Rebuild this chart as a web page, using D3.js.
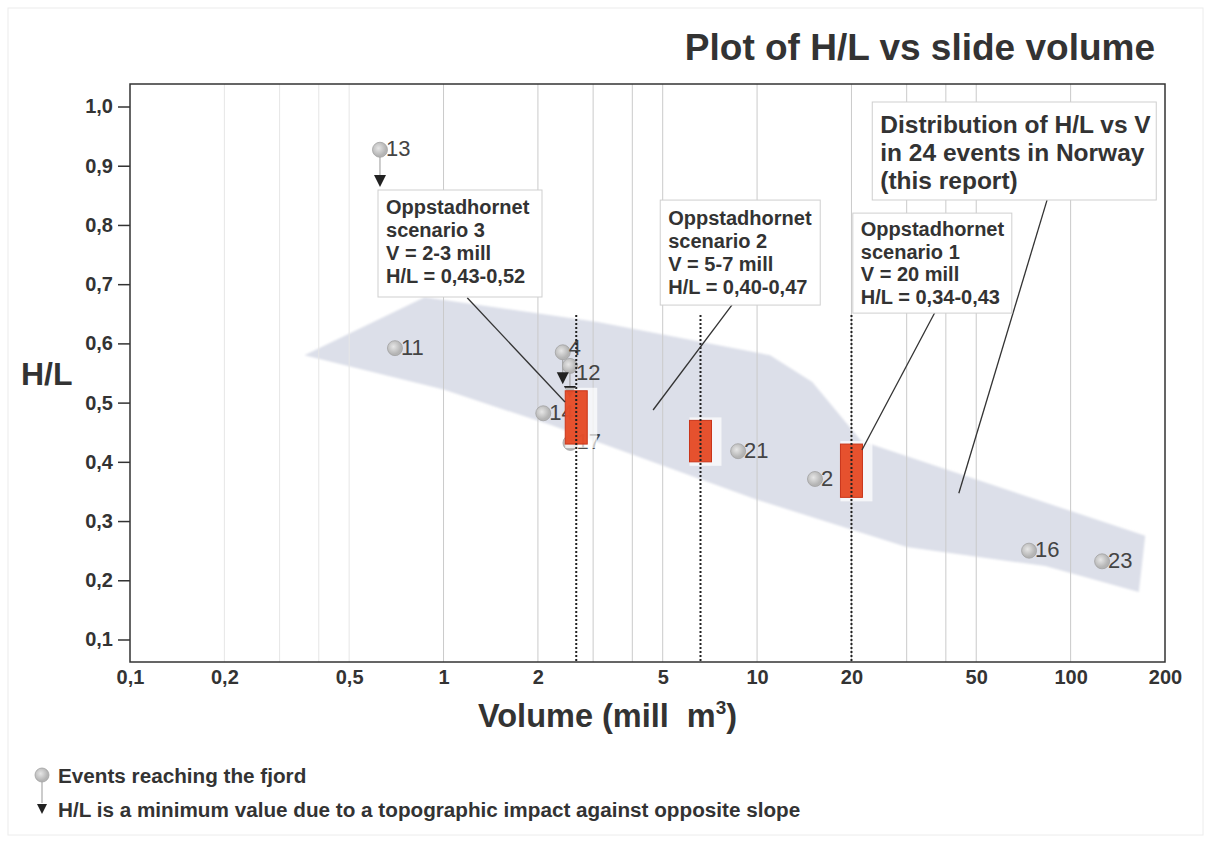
<!DOCTYPE html>
<html>
<head>
<meta charset="utf-8">
<script src="https://cdn.jsdelivr.net/npm/d3@7"></script>
<style>
  body { margin: 0; background: #fff; }
  svg { display: block; }
  .tick-y text { font: bold 20px "Liberation Sans", Arial, sans-serif; fill: #333; }
  .tick-x text { font: bold 20px "Liberation Sans", Arial, sans-serif; fill: #333; }
  .pt-label { font: 22px "Liberation Sans", Arial, sans-serif; fill: #444; }
  .box-text { font: bold 20px "Liberation Sans", Arial, sans-serif; fill: #333; }
  .dist-text { font: bold 24.5px "Liberation Sans", Arial, sans-serif; fill: #333; }
  .legend-text { font: bold 20.7px "Liberation Sans", Arial, sans-serif; fill: #333; }
</style>
</head>
<body>
<div id="chart"></div>
<script>
// events in the figure (volume in mill m3, H/L)
const eventIds = ["13", "11", "4", "12", "14", "17", "21", "2", "16", "23"];
const eventVolume = [0.627, 0.70, 2.40, 2.53, 2.08, 2.54, 8.7, 15.3, 73.7, 126];
const eventHL = [0.927, 0.592, 0.585, 0.562, 0.482, 0.432, 0.418, 0.371, 0.25, 0.232];

// events where H/L is a minimum value (arrow drawn below the point)
const minIds = ["13", "4", "12"];
const minArrowHL = [0.874, 0.541, 0.518];

// outline of the grey distribution band
const bandVolume = [0.36, 0.87, 3.1, 11, 15, 21.5, 173, 165, 83, 30, 10, 2.2, 1.0];
const bandHL = [0.58, 0.678, 0.636, 0.58, 0.535, 0.435, 0.275, 0.18, 0.224, 0.256, 0.336, 0.462, 0.522];

// Oppstadhornet scenarios
const scenarioVolume = [2.65, 6.6, 20];
const scenarioHLMin = [0.43, 0.40, 0.34];
const scenarioHLMax = [0.52, 0.47, 0.43];
const scenarioLineTop = 0.648;
const scenarioText = [
  ["Oppstadhornet", "scenario 3", "V = 2-3 mill", "H/L = 0,43-0,52"],
  ["Oppstadhornet", "scenario 2", "V = 5-7 mill", "H/L = 0,40-0,47"],
  ["Oppstadhornet", "scenario 1", "V = 20 mill", "H/L = 0,34-0,43"],
];
const distText = ["Distribution of H/L vs V", "in 24 events in Norway", "(this report)"];

// axis ticks
const volTicks = [0.1, 0.2, 0.5, 1, 2, 5, 10, 20, 50, 100, 200];
const volTickLabels = ["0,1", "0,2", "0,5", "1", "2", "5", "10", "20", "50", "100", "200"];
const volGrid = [0.2, 0.3, 0.4, 0.5, 1, 2, 3, 4, 5, 10, 20, 30, 40, 50, 100];
const hlTicks = [0.1, 0.2, 0.3, 0.4, 0.5, 0.6, 0.7, 0.8, 0.9, 1.0];

class HLVolumeChart {
  constructor(props) {
    this.container = props.container;
    this.svgWidth = props.svgWidth;
    this.svgHeight = props.svgHeight;
    this.init();
  }

  init() {
    this.plot = { left: 130, top: 84, right: 1165, bottom: 662 };
    this.x = d3.scaleLog().domain([0.1, 200]).range([this.plot.left, this.plot.right]);
    this.y = d3.scaleLinear().domain([0.062, 1.038]).range([this.plot.bottom, this.plot.top]);
    this.render();
  }

  render() {
    const x = this.x, y = this.y, p = this.plot;
    const svg = d3.select(this.container).append("svg")
      .attr("width", this.svgWidth)
      .attr("height", this.svgHeight);

    const defs = svg.append("defs");
    const grad = defs.append("radialGradient").attr("id", "dot").attr("cx", "40%").attr("cy", "40%");
    grad.append("stop").attr("offset", "0%").attr("stop-color", "#e6e6e6");
    grad.append("stop").attr("offset", "100%").attr("stop-color", "#b4b4b4");
    defs.append("filter").attr("id", "soft")
      .append("feGaussianBlur").attr("stdDeviation", 1.2);

    // faint page border
    svg.append("rect").attr("x", 8).attr("y", 8).attr("width", this.svgWidth - 16).attr("height", this.svgHeight - 16)
      .attr("fill", "none").attr("stroke", "#ececec");

    // title
    svg.append("text")
      .attr("x", 1155).attr("y", 60)
      .attr("text-anchor", "end")
      .style("font", "bold 37px 'Liberation Sans', Arial, sans-serif")
      .style("fill", "#333")
      .text("Plot of H/L vs slide volume");

    // band
    const band = bandVolume.map((v, i) => [x(v), y(bandHL[i])]);
    svg.append("path")
      .attr("d", d3.line()(band) + "Z")
      .attr("fill", "#dcdfe9")
      .attr("filter", "url(#soft)");

    // gridlines
    svg.append("g").selectAll("line").data(volGrid).enter().append("line")
      .attr("x1", (d) => x(d)).attr("x2", (d) => x(d))
      .attr("y1", p.top).attr("y2", p.bottom)
      .attr("stroke", (d) => (d < 1 ? "#e6e6e6" : "#cacaca"))
      .attr("stroke-width", 1);

    // frame
    svg.append("rect")
      .attr("x", p.left).attr("y", p.top)
      .attr("width", p.right - p.left).attr("height", p.bottom - p.top)
      .attr("fill", "none").attr("stroke", "#333").attr("stroke-width", 1.5);

    // y axis
    const yAxisG = svg.append("g").attr("class", "tick-y")
      .attr("transform", `translate(${p.left},0)`)
      .call(d3.axisLeft(y).tickValues(hlTicks).tickSize(12).tickPadding(5)
        .tickFormat((d) => d3.format(".1f")(d).replace(".", ",")));
    yAxisG.select(".domain").remove();
    yAxisG.selectAll(".tick line").attr("stroke", "#333").attr("stroke-width", 1.5);

    svg.append("text")
      .attr("x", 21).attr("y", 385)
      .style("font", "bold 32px 'Liberation Sans', Arial, sans-serif")
      .style("fill", "#333")
      .text("H/L");

    // x axis
    const xAxisG = svg.append("g").attr("class", "tick-x")
      .attr("transform", `translate(0,${p.bottom})`)
      .call(d3.axisBottom(x).tickValues(volTicks).tickSize(0).tickPadding(8)
        .tickFormat((d, i) => volTickLabels[i]));
    xAxisG.select(".domain").remove();

    const xl = svg.append("text")
      .attr("x", 478).attr("y", 727)
      .style("font", "bold 32.5px 'Liberation Sans', Arial, sans-serif")
      .style("fill", "#333");
    xl.append("tspan").text("Volume (mill");
    xl.append("tspan").attr("dx", 18).text("m");
    xl.append("tspan").attr("dy", -13).style("font-size", "19px").text("3");
    xl.append("tspan").attr("dy", 13).text(")");

    // connectors between min-value points and their arrows
    const ev = eventIds.map((id, i) => ({ id, v: eventVolume[i], hl: eventHL[i] }));
    const mins = minIds.map((id, i) => {
      const e = ev.find((d) => d.id === id);
      return { v: e.v, hl: e.hl, arrow: minArrowHL[i] };
    });
    svg.append("g").selectAll("line").data(mins).enter().append("line")
      .attr("x1", (d) => x(d.v)).attr("x2", (d) => x(d.v))
      .attr("y1", (d) => y(d.hl)).attr("y2", (d) => y(d.arrow))
      .attr("stroke", "#999").attr("stroke-width", 1);

    // event points
    const ptG = svg.append("g").selectAll("g").data(ev).enter().append("g")
      .attr("transform", (d) => `translate(${x(d.v)},${y(d.hl)})`);
    ptG.append("circle").attr("r", 7.5)
      .attr("fill", "url(#dot)").attr("stroke", "#a2a2a2").attr("stroke-width", 0.8);
    // 4 and 12 sit close together, nudge their labels apart a little
    ptG.append("text").attr("class", "pt-label")
      .attr("x", 6)
      .attr("dy", (d) => (d.id === "12" ? "0.62em" : d.id === "4" ? "0.12em" : "0.3em"))
      .text((d) => d.id);

    // arrows
    svg.append("g").selectAll("path").data(mins).enter().append("path")
      .attr("transform", (d) => `translate(${x(d.v)},${y(d.arrow)})`)
      .attr("d", "M-6,-6L6,-6L0,6Z")
      .attr("fill", "#222");

    // scenario bars
    const sc = scenarioVolume.map((v, i) => ({ v, lo: scenarioHLMin[i], hi: scenarioHLMax[i] }));
    const barW = 22;
    svg.append("g").selectAll("rect").data(sc).enter().append("rect")
      .attr("x", (d) => x(d.v) - barW / 2)
      .attr("y", (d) => y(d.hi) - 3)
      .attr("width", barW + 10)
      .attr("height", (d) => y(d.lo) - y(d.hi) + 7)
      .attr("fill", "#fff").attr("opacity", 0.7);
    svg.append("g").selectAll("rect").data(sc).enter().append("rect")
      .attr("x", (d) => x(d.v) - barW / 2)
      .attr("y", (d) => y(d.hi))
      .attr("width", barW)
      .attr("height", (d) => y(d.lo) - y(d.hi))
      .attr("fill", "#e4421c").attr("fill-opacity", 0.92)
      .attr("stroke", "#c9351a").attr("stroke-width", 1);

    // dotted scenario lines
    svg.append("g").selectAll("line").data(sc).enter().append("line")
      .attr("x1", (d) => x(d.v)).attr("x2", (d) => x(d.v))
      .attr("y1", y(scenarioLineTop)).attr("y2", p.bottom)
      .attr("stroke", "#222").attr("stroke-width", 2).attr("stroke-dasharray", "2,2");

    // annotation boxes, anchored in data coordinates
    const boxes = [
      { v: 0.618, hl: 0.859, w: 164, h: 107, lines: scenarioText[0], cls: "box-text", first: 24, step: 23,
        from: [1.19, 0.677], to: [2.44, 0.501] },
      { v: 4.91, hl: 0.842, w: 160, h: 105, lines: scenarioText[1], cls: "box-text", first: 25, step: 23,
        from: [8.32, 0.665], to: [4.66, 0.4875] },
      { v: 20.2, hl: 0.820, w: 159, h: 100, lines: scenarioText[2], cls: "box-text", first: 23, step: 22.5,
        from: [36.97, 0.653], to: [21.6, 0.42] },
      { v: 23.3, hl: 1.0076, w: 284, h: 98, lines: distText, cls: "dist-text", first: 31, step: 28,
        from: [84.1, 0.842], to: [44.0, 0.347] },
    ];

    svg.append("g").selectAll("line").data(boxes).enter().append("line")
      .attr("x1", (d) => x(d.from[0])).attr("y1", (d) => y(d.from[1]))
      .attr("x2", (d) => x(d.to[0])).attr("y2", (d) => y(d.to[1]))
      .attr("stroke", "#333").attr("stroke-width", 1.3);

    const boxG = svg.append("g").selectAll("g").data(boxes).enter().append("g")
      .attr("transform", (d) => `translate(${x(d.v)},${y(d.hl)})`);
    boxG.append("rect")
      .attr("width", (d) => d.w).attr("height", (d) => d.h)
      .attr("fill", "#fff").attr("stroke", "#cfcfcf").attr("stroke-width", 1);
    boxG.each(function (d) {
      d3.select(this).selectAll("text").data(d.lines).enter().append("text")
        .attr("class", d.cls)
        .attr("x", 8)
        .attr("y", (t, i) => d.first + i * d.step)
        .text((t) => t);
    });

    // legend
    const lg = svg.append("g");
    lg.append("line").attr("x1", 42).attr("x2", 42).attr("y1", 775).attr("y2", 803)
      .attr("stroke", "#999").attr("stroke-width", 1);
    lg.append("circle").attr("cx", 42).attr("cy", 775).attr("r", 7)
      .attr("fill", "url(#dot)").attr("stroke", "#a2a2a2").attr("stroke-width", 0.8);
    lg.append("path").attr("transform", "translate(42,809)").attr("d", "M-5,-5L5,-5L0,5Z").attr("fill", "#222");
    lg.append("text").attr("class", "legend-text").attr("x", 58).attr("y", 783).text("Events reaching the fjord");
    lg.append("text").attr("class", "legend-text").attr("x", 58).attr("y", 817)
      .text("H/L is a minimum value due to a topographic impact against opposite slope");
  }
}

new HLVolumeChart({ container: "#chart", svgWidth: 1211, svgHeight: 843 });
</script>
</body>
</html>
